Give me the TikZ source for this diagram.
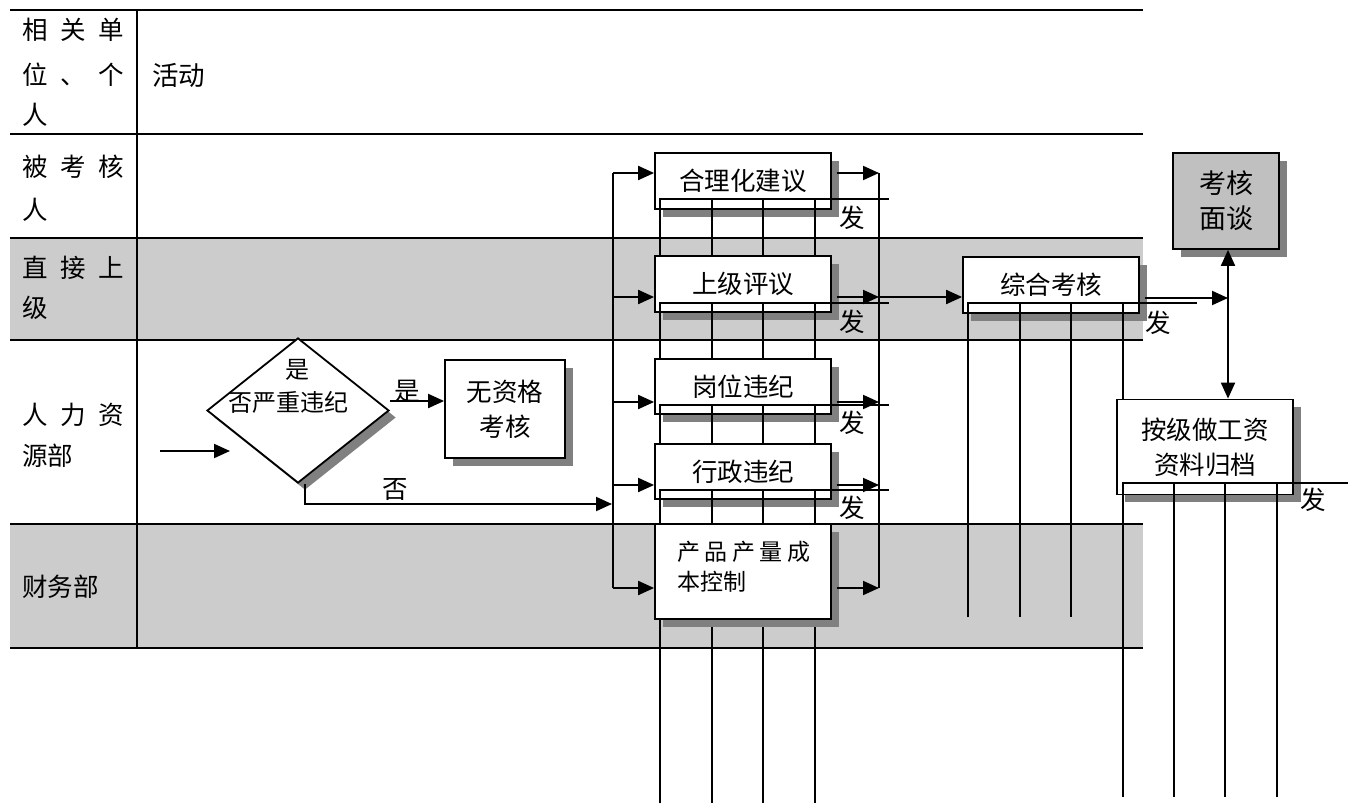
\documentclass[tikz,border=0pt]{standalone}
\usepackage{fontspec}
\setmainfont{Noto Sans CJK SC}
\usetikzlibrary{shapes.geometric,arrows.meta,shadows}
\definecolor{band}{HTML}{CCCCCC}
\definecolor{shd}{HTML}{808080}
\definecolor{boxg}{HTML}{C0C0C0}
\newcommand{\gapx}{\hspace{0.5em}}
\newcommand{\gapy}{\hspace{0.2em}}
\begin{document}
\begin{tikzpicture}[x=1pt,y=-1pt,
  txt/.style={font=\fontsize{25.5}{35}\selectfont, inner sep=0pt, align=center},
  lbl/.style={txt, anchor=west},
  tbl/.style={line width=1.5pt},
  box/.style={draw, line width=1.8pt, fill=white, inner sep=0pt, txt,
    general shadow={fill=shd, shadow xshift=7.5pt, shadow yshift=-7.5pt}},
  arr/.style={line width=2pt, -{Triangle[length=16pt,width=14pt]}},
  dbl/.style={line width=2pt, {Triangle[length=16pt,width=14pt]}-{Triangle[length=16pt,width=14pt]}},
  bus/.style={line width=2pt},
  dist/.style={line width=1.5pt},
]
\useasboundingbox (0,0) rectangle (1348,803);
% bands and table
\fill[band] (10,238) rectangle (1143,340);
\fill[band] (10,524) rectangle (1143,648);
\foreach \yy in {10,134,238,340,524,648} \draw[tbl] (10,\yy) -- (1143,\yy);
\draw[tbl] (137,10) -- (137,648);
% left column labels
\node[lbl] (h1) at (22,30) {相\gapx 关\gapx 单};
\node[lbl] (h2) at (22,75) {位\gapx 、\gapx 个};
\node[lbl] (h3) at (22,115) {人};
\node[lbl, font=\fontsize{26.5}{35}\selectfont] (hd) at (152,75) {活动};
\node[lbl] (a1) at (22,167) {被\gapx 考\gapx 核};
\node[lbl] (a2) at (22,210) {人};
\node[lbl] (b1) at (22,268) {直\gapx 接\gapx 上};
\node[lbl] (b2) at (22,308) {级};
\node[lbl] (c1) at (22,415) {人\gapx 力\gapx 资};
\node[lbl] (c2) at (22,456) {源部};
\node[lbl] (d1) at (22,587) {财务部};

% decision
\node[diamond, draw, line width=1.8pt, fill=white, inner sep=0pt,
  minimum width=182pt, minimum height=145pt,
  general shadow={fill=shd, shadow xshift=7pt, shadow yshift=-7pt}] (dm) at (298,410.5) {};
\node[txt, font=\fontsize{24}{30}\selectfont] (dmt1) at (297,370) {是};
\node[txt, font=\fontsize{24}{30}\selectfont] (dmt2) at (288,402) {否严重违纪};
\node[box, minimum width=120pt, minimum height=98pt] (wz) at (505,409) {无资格\\考核};
\coordinate (S1) at (160,451);
\coordinate (S2) at (230,451);
\draw[arr] (S1) -- (S2);
\coordinate (Y) at (0,401);
\draw[arr] (dm.east |- Y) -- (wz.west |- Y);
\node[txt] (yes) at (407,391) {是};
\coordinate (N) at (612,504);
\draw[arr] ([xshift=7pt]dm.south) |- (N);
\node[txt] (no) at (395,490) {否};

% bus points
\coordinate (L1) at (613,173);
\coordinate (L2) at (613,297);
\coordinate (L3) at (613,402);
\coordinate (L4) at (613,485);
\coordinate (L5) at (613,588);
\coordinate (R1) at (879,173);
\coordinate (R2) at (879,297);
\coordinate (R3) at (879,402);
\coordinate (R4) at (879,485);
\coordinate (R5) at (879,588);

% activity boxes with distribution lines
\node[box, minimum width=176pt, minimum height=56pt] (hl) at (743,181) {合理化建议};
\draw[dist] (660,803) -- (660,199) -- (889,199);
\foreach \xx in {712,763,815} \draw[dist] (\xx,199) -- (\xx,803);
\node[box, minimum width=176pt, minimum height=56pt] (sj) at (743,284) {上级评议};
\draw[dist] (660,803) -- (660,303) -- (889,303);
\foreach \xx in {712,763,815} \draw[dist] (\xx,303) -- (\xx,803);
\node[box, minimum width=176pt, minimum height=55pt] (gw) at (743,386.5) {岗位违纪};
\draw[dist] (660,803) -- (660,405) -- (889,405);
\foreach \xx in {712,763,815} \draw[dist] (\xx,405) -- (\xx,803);
\node[box, minimum width=176pt, minimum height=55pt] (xz) at (743,471.5) {行政违纪};
\draw[dist] (660,803) -- (660,490) -- (889,490);
\foreach \xx in {712,763,815} \draw[dist] (\xx,490) -- (\xx,803);
\node[box, minimum width=176pt, minimum height=95pt] (cp) at (743,571.5) {};
\node[lbl, font=\fontsize{23}{30}\selectfont] (cpt1) at (677,552) {产\gapy 品\gapy 产\gapy 量\gapy 成};
\node[lbl, font=\fontsize{23}{30}\selectfont] (cpt2) at (677,582) {本控制};

\node[txt] (f1) at (852,218) {发};
\node[txt] (f2) at (852,322) {发};
\node[txt] (f3) at (852,423) {发};
\node[txt] (f4) at (852,508) {发};

% buses
\draw[bus] (L1) -- (L5);
\draw[bus] (R1) -- (R5);
\draw[arr] (L1) -- (L1 -| hl.west);
\draw[arr] (L2) -- (L2 -| sj.west);
\draw[arr] (L3) -- (L3 -| gw.west);
\draw[arr] (L4) -- (L4 -| xz.west);
\draw[arr] (L5) -- (L5 -| cp.west);
\draw[arr, shorten <=5pt] (hl.east |- R1) -- (R1);
\draw[arr, shorten <=5pt] (sj.east |- R2) -- (R2);
\draw[arr, shorten <=5pt] (gw.east |- R3) -- (R3);
\draw[arr, shorten <=5pt] (xz.east |- R4) -- (R4);
\draw[arr, shorten <=5pt] (cp.east |- R5) -- (R5);

% summary
\node[box, minimum width=176pt, minimum height=56pt] (zh) at (1051,285) {综合考核};
\draw[dist] (968,617) -- (968,303) -- (1197,303);
\foreach \xx in {1020,1071} \draw[dist] (\xx,303) -- (\xx,617);
\draw[dist] (1123,303) -- (1123,400);
\node[txt] (f5) at (1158,323) {发};
\draw[arr] (R2) -- (R2 -| zh.west);

\node[box, fill=boxg, minimum width=106pt, minimum height=96pt,
  font=\fontsize{27}{35}\selectfont,
  general shadow={fill=shd, shadow xshift=8pt, shadow yshift=-8pt}] (ms) at (1226,201) {考核\\面谈};
\node[box, minimum width=176pt, minimum height=95pt] (gd) at (1205,447) {按级做工资\\资料归档};
\draw[dist] (1123,797) -- (1123,483) -- (1348,483);
\foreach \xx in {1174,1225,1277} \draw[dist] (\xx,483) -- (\xx,797);
\node[txt] (f6) at (1313,500) {发};

\coordinate (J) at (1228,298);
\draw[arr, shorten <=5pt] (zh.east |- J) -- (J);
\draw[dbl] (ms.south -| J) -- (gd.north -| J);
\end{tikzpicture}
\end{document}
